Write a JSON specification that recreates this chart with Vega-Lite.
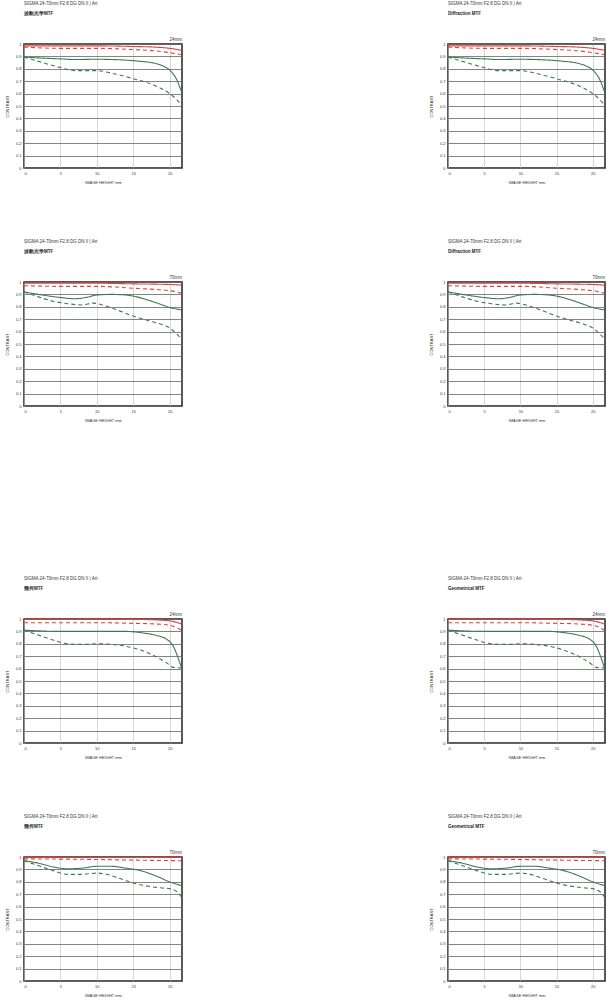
{
"$schema":"https://vega.github.io/schema/vega-lite/v6.json",
"padding":{"left":4,"top":0,"right":2,"bottom":0},
"background":"white",
"config":{
 "font":"Liberation Sans",
 "view":{"stroke":"#222","strokeWidth":1.5},
 "title":{"anchor":"start","frame":"group","fontSize":4.5,"fontWeight":"normal","color":"#333","subtitleFontSize":4.5,"subtitleFontWeight":"bold","subtitleColor":"#222","subtitlePadding":5,"offset":22},
 "axis":{"labelFontSize":4,"titleFontSize":4,"titleFontWeight":"normal","labelColor":"#333","titleColor":"#333","domain":false,"ticks":false,"labelPadding":3,"gridOpacity":1,"labelOverlap":false},
 "axisX":{"titlePadding":5},
 "axisY":{"titlePadding":6},
 "line":{"strokeWidth":1.1,"interpolate":"monotone"},
 "text":{"fontSize":4.5,"color":"#333"}
},
"datasets":{
 "dw":[
  {"s":"RS","x":0,"y":0.985},{"s":"RS","x":5,"y":0.985},{"s":"RS","x":10,"y":0.985},{"s":"RS","x":15,"y":0.98},{"s":"RS","x":18,"y":0.975},{"s":"RS","x":20,"y":0.965},{"s":"RS","x":21.6,"y":0.95},
  {"s":"RM","x":0,"y":0.975},{"s":"RM","x":5,"y":0.965},{"s":"RM","x":10,"y":0.965},{"s":"RM","x":15,"y":0.955},{"s":"RM","x":18,"y":0.945},{"s":"RM","x":20,"y":0.93},{"s":"RM","x":21.6,"y":0.915},
  {"s":"GS","x":0,"y":0.895},{"s":"GS","x":3,"y":0.885},{"s":"GS","x":5,"y":0.88},{"s":"GS","x":7,"y":0.875},{"s":"GS","x":10,"y":0.877},{"s":"GS","x":12,"y":0.875},{"s":"GS","x":14,"y":0.87},{"s":"GS","x":16,"y":0.86},{"s":"GS","x":17.5,"y":0.85},{"s":"GS","x":19,"y":0.825},{"s":"GS","x":20,"y":0.79},{"s":"GS","x":21,"y":0.71},{"s":"GS","x":21.6,"y":0.62},
  {"s":"GM","x":0,"y":0.895},{"s":"GM","x":2,"y":0.86},{"s":"GM","x":5,"y":0.81},{"s":"GM","x":7,"y":0.785},{"s":"GM","x":10,"y":0.785},{"s":"GM","x":12,"y":0.765},{"s":"GM","x":15,"y":0.72},{"s":"GM","x":18,"y":0.665},{"s":"GM","x":20,"y":0.6},{"s":"GM","x":21,"y":0.55},{"s":"GM","x":21.6,"y":0.51}
 ],
 "dt":[
  {"s":"RS","x":0,"y":0.99},{"s":"RS","x":10,"y":0.99},{"s":"RS","x":15,"y":0.985},{"s":"RS","x":20,"y":0.98},{"s":"RS","x":21.6,"y":0.975},
  {"s":"RM","x":0,"y":0.97},{"s":"RM","x":5,"y":0.965},{"s":"RM","x":10,"y":0.965},{"s":"RM","x":15,"y":0.95},{"s":"RM","x":18,"y":0.94},{"s":"RM","x":20,"y":0.93},{"s":"RM","x":21.6,"y":0.91},
  {"s":"GS","x":0,"y":0.92},{"s":"GS","x":2,"y":0.9},{"s":"GS","x":5,"y":0.875},{"s":"GS","x":7,"y":0.865},{"s":"GS","x":8.5,"y":0.875},{"s":"GS","x":10,"y":0.895},{"s":"GS","x":12,"y":0.9},{"s":"GS","x":14,"y":0.895},{"s":"GS","x":15.5,"y":0.88},{"s":"GS","x":17,"y":0.855},{"s":"GS","x":19,"y":0.815},{"s":"GS","x":20,"y":0.795},{"s":"GS","x":21.6,"y":0.775},
  {"s":"GM","x":0,"y":0.92},{"s":"GM","x":2,"y":0.88},{"s":"GM","x":4,"y":0.845},{"s":"GM","x":6,"y":0.825},{"s":"GM","x":8,"y":0.815},{"s":"GM","x":9.5,"y":0.83},{"s":"GM","x":11,"y":0.81},{"s":"GM","x":13,"y":0.77},{"s":"GM","x":15,"y":0.725},{"s":"GM","x":17,"y":0.69},{"s":"GM","x":19,"y":0.655},{"s":"GM","x":20,"y":0.63},{"s":"GM","x":21,"y":0.58},{"s":"GM","x":21.6,"y":0.545}
 ],
 "gw":[
  {"s":"RS","x":0,"y":0.998},{"s":"RS","x":15,"y":0.997},{"s":"RS","x":19,"y":0.99},{"s":"RS","x":20.5,"y":0.98},{"s":"RS","x":21.6,"y":0.96},
  {"s":"RM","x":0,"y":0.97},{"s":"RM","x":5,"y":0.97},{"s":"RM","x":10,"y":0.97},{"s":"RM","x":15,"y":0.965},{"s":"RM","x":18,"y":0.96},{"s":"RM","x":20,"y":0.95},{"s":"RM","x":21,"y":0.93},{"s":"RM","x":21.6,"y":0.91},
  {"s":"GS","x":0,"y":0.91},{"s":"GS","x":5,"y":0.9},{"s":"GS","x":10,"y":0.9},{"s":"GS","x":14,"y":0.9},{"s":"GS","x":16,"y":0.89},{"s":"GS","x":18,"y":0.87},{"s":"GS","x":19.5,"y":0.84},{"s":"GS","x":20.5,"y":0.78},{"s":"GS","x":21.2,"y":0.68},{"s":"GS","x":21.6,"y":0.61},
  {"s":"GM","x":0,"y":0.91},{"s":"GM","x":2,"y":0.87},{"s":"GM","x":4,"y":0.83},{"s":"GM","x":6,"y":0.8},{"s":"GM","x":8,"y":0.795},{"s":"GM","x":10,"y":0.8},{"s":"GM","x":12,"y":0.795},{"s":"GM","x":14,"y":0.78},{"s":"GM","x":16,"y":0.75},{"s":"GM","x":18,"y":0.7},{"s":"GM","x":19.5,"y":0.65},{"s":"GM","x":20.5,"y":0.61},{"s":"GM","x":21.6,"y":0.605}
 ],
 "gt":[
  {"s":"RS","x":0,"y":0.999},{"s":"RS","x":21.6,"y":0.997},
  {"s":"RM","x":0,"y":0.985},{"s":"RM","x":10,"y":0.98},{"s":"RM","x":15,"y":0.975},{"s":"RM","x":21.6,"y":0.97},
  {"s":"GS","x":0,"y":0.97},{"s":"GS","x":2,"y":0.95},{"s":"GS","x":4,"y":0.92},{"s":"GS","x":6,"y":0.905},{"s":"GS","x":8,"y":0.91},{"s":"GS","x":10,"y":0.925},{"s":"GS","x":12,"y":0.925},{"s":"GS","x":14,"y":0.91},{"s":"GS","x":16,"y":0.89},{"s":"GS","x":18,"y":0.85},{"s":"GS","x":20,"y":0.8},{"s":"GS","x":21.6,"y":0.77},
  {"s":"GM","x":0,"y":0.97},{"s":"GM","x":2,"y":0.93},{"s":"GM","x":4,"y":0.89},{"s":"GM","x":6,"y":0.86},{"s":"GM","x":8,"y":0.86},{"s":"GM","x":10,"y":0.87},{"s":"GM","x":11,"y":0.865},{"s":"GM","x":13,"y":0.83},{"s":"GM","x":15,"y":0.79},{"s":"GM","x":17,"y":0.765},{"s":"GM","x":19,"y":0.75},{"s":"GM","x":20,"y":0.745},{"s":"GM","x":21,"y":0.72},{"s":"GM","x":21.6,"y":0.68}
 ]
},
"vconcat":[
 {"spacing":53,"vconcat":[
  {"spacing":243,"hconcat":[
   {"width":158,"height":124,"title":{"text":"SIGMA 24-70mm F2.8 DG DN II | Art","subtitle":"波動光学MTF"},
    "layer":[
     {"data":{"name":"dw"},"mark":"line","encoding":{
      "x":{"field":"x","type":"quantitative","scale":{"domain":[0,21.7],"nice":false},"axis":{"values":[0,5,10,15,20],"title":"IMAGE HEIGHT   mm","gridColor":"#bbb","gridWidth":0.6}},
      "y":{"field":"y","type":"quantitative","scale":{"domain":[0,1]},"axis":{"values":[0,0.1,0.2,0.3,0.4,0.5,0.6,0.7,0.8,0.9,1],"format":"~g","title":"CONTRAST","gridColor":"#666","gridWidth":0.8}},
      "color":{"field":"s","type":"nominal","scale":{"domain":["RS","RM","GS","GM"],"range":["#e0413a","#e0413a","#3b7a52","#3b7a52"]},"legend":null},
      "strokeDash":{"field":"s","type":"nominal","scale":{"domain":["RS","RM","GS","GM"],"range":[[1,0],[4,3],[1,0],[4,3]]},"legend":null}}},
     {"data":{"values":[{"t":"24mm"}]},"mark":{"type":"text","align":"right","baseline":"bottom","dy":-2},"encoding":{
      "x":{"datum":21.7,"type":"quantitative","axis":{"values":[0,5,10,15,20],"title":"IMAGE HEIGHT   mm","gridColor":"#bbb","gridWidth":0.6}},
      "y":{"datum":1,"type":"quantitative","axis":{"values":[0,0.1,0.2,0.3,0.4,0.5,0.6,0.7,0.8,0.9,1],"format":"~g","title":"CONTRAST","gridColor":"#666","gridWidth":0.8}},
      "text":{"field":"t"}}}
    ]},
   {"width":157,"height":124,"title":{"text":"SIGMA 24-70mm F2.8 DG DN II | Art","subtitle":"Diffraction MTF"},
    "layer":[
     {"data":{"name":"dw"},"mark":"line","encoding":{
      "x":{"field":"x","type":"quantitative","scale":{"domain":[0,21.7],"nice":false},"axis":{"values":[0,5,10,15,20],"title":"IMAGE HEIGHT   mm","gridColor":"#bbb","gridWidth":0.6}},
      "y":{"field":"y","type":"quantitative","scale":{"domain":[0,1]},"axis":{"values":[0,0.1,0.2,0.3,0.4,0.5,0.6,0.7,0.8,0.9,1],"format":"~g","title":"CONTRAST","gridColor":"#666","gridWidth":0.8}},
      "color":{"field":"s","type":"nominal","scale":{"domain":["RS","RM","GS","GM"],"range":["#e0413a","#e0413a","#3b7a52","#3b7a52"]},"legend":null},
      "strokeDash":{"field":"s","type":"nominal","scale":{"domain":["RS","RM","GS","GM"],"range":[[1,0],[4,3],[1,0],[4,3]]},"legend":null}}},
     {"data":{"values":[{"t":"24mm"}]},"mark":{"type":"text","align":"right","baseline":"bottom","dy":-2},"encoding":{
      "x":{"datum":21.7,"type":"quantitative","axis":{"values":[0,5,10,15,20],"title":"IMAGE HEIGHT   mm","gridColor":"#bbb","gridWidth":0.6}},
      "y":{"datum":1,"type":"quantitative","axis":{"values":[0,0.1,0.2,0.3,0.4,0.5,0.6,0.7,0.8,0.9,1],"format":"~g","title":"CONTRAST","gridColor":"#666","gridWidth":0.8}},
      "text":{"field":"t"}}}
    ]}
  ]},
  {"spacing":243,"hconcat":[
   {"width":158,"height":124,"title":{"text":"SIGMA 24-70mm F2.8 DG DN II | Art","subtitle":"波動光学MTF"},
    "layer":[
     {"data":{"name":"dt"},"mark":"line","encoding":{
      "x":{"field":"x","type":"quantitative","scale":{"domain":[0,21.7],"nice":false},"axis":{"values":[0,5,10,15,20],"title":"IMAGE HEIGHT   mm","gridColor":"#bbb","gridWidth":0.6}},
      "y":{"field":"y","type":"quantitative","scale":{"domain":[0,1]},"axis":{"values":[0,0.1,0.2,0.3,0.4,0.5,0.6,0.7,0.8,0.9,1],"format":"~g","title":"CONTRAST","gridColor":"#666","gridWidth":0.8}},
      "color":{"field":"s","type":"nominal","scale":{"domain":["RS","RM","GS","GM"],"range":["#e0413a","#e0413a","#3b7a52","#3b7a52"]},"legend":null},
      "strokeDash":{"field":"s","type":"nominal","scale":{"domain":["RS","RM","GS","GM"],"range":[[1,0],[4,3],[1,0],[4,3]]},"legend":null}}},
     {"data":{"values":[{"t":"70mm"}]},"mark":{"type":"text","align":"right","baseline":"bottom","dy":-2},"encoding":{
      "x":{"datum":21.7,"type":"quantitative","axis":{"values":[0,5,10,15,20],"title":"IMAGE HEIGHT   mm","gridColor":"#bbb","gridWidth":0.6}},
      "y":{"datum":1,"type":"quantitative","axis":{"values":[0,0.1,0.2,0.3,0.4,0.5,0.6,0.7,0.8,0.9,1],"format":"~g","title":"CONTRAST","gridColor":"#666","gridWidth":0.8}},
      "text":{"field":"t"}}}
    ]},
   {"width":157,"height":124,"title":{"text":"SIGMA 24-70mm F2.8 DG DN II | Art","subtitle":"Diffraction MTF"},
    "layer":[
     {"data":{"name":"dt"},"mark":"line","encoding":{
      "x":{"field":"x","type":"quantitative","scale":{"domain":[0,21.7],"nice":false},"axis":{"values":[0,5,10,15,20],"title":"IMAGE HEIGHT   mm","gridColor":"#bbb","gridWidth":0.6}},
      "y":{"field":"y","type":"quantitative","scale":{"domain":[0,1]},"axis":{"values":[0,0.1,0.2,0.3,0.4,0.5,0.6,0.7,0.8,0.9,1],"format":"~g","title":"CONTRAST","gridColor":"#666","gridWidth":0.8}},
      "color":{"field":"s","type":"nominal","scale":{"domain":["RS","RM","GS","GM"],"range":["#e0413a","#e0413a","#3b7a52","#3b7a52"]},"legend":null},
      "strokeDash":{"field":"s","type":"nominal","scale":{"domain":["RS","RM","GS","GM"],"range":[[1,0],[4,3],[1,0],[4,3]]},"legend":null}}},
     {"data":{"values":[{"t":"70mm"}]},"mark":{"type":"text","align":"right","baseline":"bottom","dy":-2},"encoding":{
      "x":{"datum":21.7,"type":"quantitative","axis":{"values":[0,5,10,15,20],"title":"IMAGE HEIGHT   mm","gridColor":"#bbb","gridWidth":0.6}},
      "y":{"datum":1,"type":"quantitative","axis":{"values":[0,0.1,0.2,0.3,0.4,0.5,0.6,0.7,0.8,0.9,1],"format":"~g","title":"CONTRAST","gridColor":"#666","gridWidth":0.8}},
      "text":{"field":"t"}}}
    ]}
  ]}
 ]},
 {"spacing":53,"vconcat":[
  {"spacing":243,"hconcat":[
   {"width":158,"height":124,"title":{"text":"SIGMA 24-70mm F2.8 DG DN II | Art","subtitle":"幾何MTF"},
    "layer":[
     {"data":{"name":"gw"},"mark":"line","encoding":{
      "x":{"field":"x","type":"quantitative","scale":{"domain":[0,21.7],"nice":false},"axis":{"values":[0,5,10,15,20],"title":"IMAGE HEIGHT   mm","gridColor":"#bbb","gridWidth":0.6}},
      "y":{"field":"y","type":"quantitative","scale":{"domain":[0,1]},"axis":{"values":[0,0.1,0.2,0.3,0.4,0.5,0.6,0.7,0.8,0.9,1],"format":"~g","title":"CONTRAST","gridColor":"#666","gridWidth":0.8}},
      "color":{"field":"s","type":"nominal","scale":{"domain":["RS","RM","GS","GM"],"range":["#e0413a","#e0413a","#3b7a52","#3b7a52"]},"legend":null},
      "strokeDash":{"field":"s","type":"nominal","scale":{"domain":["RS","RM","GS","GM"],"range":[[1,0],[4,3],[1,0],[4,3]]},"legend":null}}},
     {"data":{"values":[{"t":"24mm"}]},"mark":{"type":"text","align":"right","baseline":"bottom","dy":-2},"encoding":{
      "x":{"datum":21.7,"type":"quantitative","axis":{"values":[0,5,10,15,20],"title":"IMAGE HEIGHT   mm","gridColor":"#bbb","gridWidth":0.6}},
      "y":{"datum":1,"type":"quantitative","axis":{"values":[0,0.1,0.2,0.3,0.4,0.5,0.6,0.7,0.8,0.9,1],"format":"~g","title":"CONTRAST","gridColor":"#666","gridWidth":0.8}},
      "text":{"field":"t"}}}
    ]},
   {"width":157,"height":124,"title":{"text":"SIGMA 24-70mm F2.8 DG DN II | Art","subtitle":"Geometrical MTF"},
    "layer":[
     {"data":{"name":"gw"},"mark":"line","encoding":{
      "x":{"field":"x","type":"quantitative","scale":{"domain":[0,21.7],"nice":false},"axis":{"values":[0,5,10,15,20],"title":"IMAGE HEIGHT   mm","gridColor":"#bbb","gridWidth":0.6}},
      "y":{"field":"y","type":"quantitative","scale":{"domain":[0,1]},"axis":{"values":[0,0.1,0.2,0.3,0.4,0.5,0.6,0.7,0.8,0.9,1],"format":"~g","title":"CONTRAST","gridColor":"#666","gridWidth":0.8}},
      "color":{"field":"s","type":"nominal","scale":{"domain":["RS","RM","GS","GM"],"range":["#e0413a","#e0413a","#3b7a52","#3b7a52"]},"legend":null},
      "strokeDash":{"field":"s","type":"nominal","scale":{"domain":["RS","RM","GS","GM"],"range":[[1,0],[4,3],[1,0],[4,3]]},"legend":null}}},
     {"data":{"values":[{"t":"24mm"}]},"mark":{"type":"text","align":"right","baseline":"bottom","dy":-2},"encoding":{
      "x":{"datum":21.7,"type":"quantitative","axis":{"values":[0,5,10,15,20],"title":"IMAGE HEIGHT   mm","gridColor":"#bbb","gridWidth":0.6}},
      "y":{"datum":1,"type":"quantitative","axis":{"values":[0,0.1,0.2,0.3,0.4,0.5,0.6,0.7,0.8,0.9,1],"format":"~g","title":"CONTRAST","gridColor":"#666","gridWidth":0.8}},
      "text":{"field":"t"}}}
    ]}
  ]},
  {"spacing":243,"hconcat":[
   {"width":158,"height":124,"title":{"text":"SIGMA 24-70mm F2.8 DG DN II | Art","subtitle":"幾何MTF"},
    "layer":[
     {"data":{"name":"gt"},"mark":"line","encoding":{
      "x":{"field":"x","type":"quantitative","scale":{"domain":[0,21.7],"nice":false},"axis":{"values":[0,5,10,15,20],"title":"IMAGE HEIGHT   mm","gridColor":"#bbb","gridWidth":0.6}},
      "y":{"field":"y","type":"quantitative","scale":{"domain":[0,1]},"axis":{"values":[0,0.1,0.2,0.3,0.4,0.5,0.6,0.7,0.8,0.9,1],"format":"~g","title":"CONTRAST","gridColor":"#666","gridWidth":0.8}},
      "color":{"field":"s","type":"nominal","scale":{"domain":["RS","RM","GS","GM"],"range":["#e0413a","#e0413a","#3b7a52","#3b7a52"]},"legend":null},
      "strokeDash":{"field":"s","type":"nominal","scale":{"domain":["RS","RM","GS","GM"],"range":[[1,0],[4,3],[1,0],[4,3]]},"legend":null}}},
     {"data":{"values":[{"t":"70mm"}]},"mark":{"type":"text","align":"right","baseline":"bottom","dy":-2},"encoding":{
      "x":{"datum":21.7,"type":"quantitative","axis":{"values":[0,5,10,15,20],"title":"IMAGE HEIGHT   mm","gridColor":"#bbb","gridWidth":0.6}},
      "y":{"datum":1,"type":"quantitative","axis":{"values":[0,0.1,0.2,0.3,0.4,0.5,0.6,0.7,0.8,0.9,1],"format":"~g","title":"CONTRAST","gridColor":"#666","gridWidth":0.8}},
      "text":{"field":"t"}}}
    ]},
   {"width":157,"height":124,"title":{"text":"SIGMA 24-70mm F2.8 DG DN II | Art","subtitle":"Geometrical MTF"},
    "layer":[
     {"data":{"name":"gt"},"mark":"line","encoding":{
      "x":{"field":"x","type":"quantitative","scale":{"domain":[0,21.7],"nice":false},"axis":{"values":[0,5,10,15,20],"title":"IMAGE HEIGHT   mm","gridColor":"#bbb","gridWidth":0.6}},
      "y":{"field":"y","type":"quantitative","scale":{"domain":[0,1]},"axis":{"values":[0,0.1,0.2,0.3,0.4,0.5,0.6,0.7,0.8,0.9,1],"format":"~g","title":"CONTRAST","gridColor":"#666","gridWidth":0.8}},
      "color":{"field":"s","type":"nominal","scale":{"domain":["RS","RM","GS","GM"],"range":["#e0413a","#e0413a","#3b7a52","#3b7a52"]},"legend":null},
      "strokeDash":{"field":"s","type":"nominal","scale":{"domain":["RS","RM","GS","GM"],"range":[[1,0],[4,3],[1,0],[4,3]]},"legend":null}}},
     {"data":{"values":[{"t":"70mm"}]},"mark":{"type":"text","align":"right","baseline":"bottom","dy":-2},"encoding":{
      "x":{"datum":21.7,"type":"quantitative","axis":{"values":[0,5,10,15,20],"title":"IMAGE HEIGHT   mm","gridColor":"#bbb","gridWidth":0.6}},
      "y":{"datum":1,"type":"quantitative","axis":{"values":[0,0.1,0.2,0.3,0.4,0.5,0.6,0.7,0.8,0.9,1],"format":"~g","title":"CONTRAST","gridColor":"#666","gridWidth":0.8}},
      "text":{"field":"t"}}}
    ]}
  ]}
 ]}
],
"spacing":152
}
